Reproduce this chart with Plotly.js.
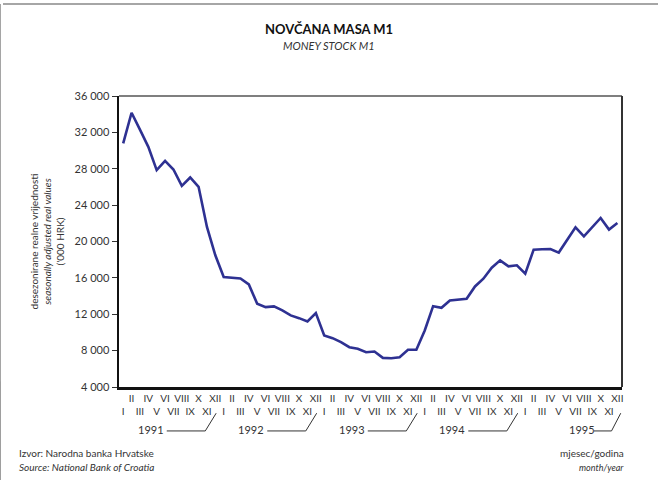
<!DOCTYPE html>
<html>
<head>
<meta charset="utf-8">
<script src="https://cdn.plot.ly/plotly-3.0.1.min.js"></script>
<style>html,body{margin:0;padding:0;background:#fff;}#chart{width:658px;height:480px;}</style>
</head>
<body>
<div id="chart"></div>
<script>
// month index 0 = I 1991 ... 59 = XII 1995
var monthIndex = [];
for (var i = 0; i < 60; i++) monthIndex.push(i);

var romanMonths = ['I','II','III','IV','V','VI','VII','VIII','IX','X','XI','XII'];
var years = ['1991','1992','1993','1994','1995'];

// seasonally adjusted real values ('000 HRK)
var m1Values = [
  30790, 34160, 32300, 30410, 27850, 28870, 27920, 26120, 27040, 26010, 21600, 18480,
  16090, 16050, 15940, 15280, 13150, 12780, 12860, 12420, 11870, 11570, 11200, 12120,
   9660,  9370,  8930,  8380,  8200,  7820,  7900,  7200,  7160,  7270,  8090,  8090,
  10210, 12890, 12710, 13520, 13630, 13710, 15060, 15910, 17120, 17930, 17270, 17380,
  16460, 19100, 19140, 19170, 18780, 20240, 21560, 20570, 21600, 22590, 21310, 22040
];

var yTicks = [4000, 8000, 12000, 16000, 20000, 24000, 28000, 32000, 36000];

var tickText = monthIndex.map(function (i) {
  var r = romanMonths[i % 12];
  return (i % 2 === 1) ? r : ('<br>' + r);
});

var FONT = 'Lato, "Open Sans", sans-serif';
var TXT = '#333';

var trace = {
  x: monthIndex,
  y: m1Values,
  type: 'scatter',
  mode: 'lines',
  line: {color: '#2e3192', width: 2.6},
  hoverinfo: 'skip'
};

// year labels and bracket lines (decoration under the month labels)
var annotations = [];
var shapes = [];
var yearCenters = [3.3, 15.3, 27.3, 39.3, 54.8];
var lineStart = [5.2, 17.2, 29.2, 41.2, 56.2];
var lineEnd = [9.8, 21.8, 33.8, 45.8, 58.3];
var slashTop = [11.1, 23.1, 35.1, 47.1, 59.4];
var yLine = -0.151, ySlash = -0.09, yYear = -0.147;
years.forEach(function (yr, k) {
  annotations.push({
    xref: 'x', yref: 'paper', x: yearCenters[k], y: yYear,
    text: yr, showarrow: false, xanchor: 'center', yanchor: 'middle',
    font: {family: FONT, size: 11, color: TXT}
  });
  shapes.push({type: 'line', xref: 'x', yref: 'paper',
    x0: lineStart[k], x1: lineEnd[k], y0: yLine, y1: yLine,
    line: {color: '#333', width: 1}});
  shapes.push({type: 'line', xref: 'x', yref: 'paper',
    x0: lineEnd[k], x1: slashTop[k], y0: yLine, y1: ySlash,
    line: {color: '#333', width: 1}});
});

// top and right frame of plot
shapes.push({type: 'line', xref: 'paper', yref: 'paper', x0: 0, x1: 1, y0: 1, y1: 1,
  line: {color: '#555', width: 1.5}});
shapes.push({type: 'line', xref: 'paper', yref: 'paper', x0: 1, x1: 1, y0: 0, y1: 1,
  line: {color: '#333', width: 2}});

// page border (left and top)
shapes.push({type: 'line', xref: 'paper', yref: 'paper',
  x0: -119/503, x1: -119/503 + 0.0001, y0: 1 + 92/291, y1: -93/291,
  line: {color: '#888', width: 1.5}});
shapes.push({type: 'line', xref: 'paper', yref: 'paper',
  x0: -116/503, x1: 1 + 36/503, y0: 1 + 92/291, y1: 1 + 92/291,
  line: {color: '#888', width: 1.5}});

// title & notes
annotations.push({xref: 'paper', yref: 'paper', x: (329 - 119) / 503, y: (387 - 29) / 291,
  text: '<b>NOVČANA MASA M1</b>', showarrow: false, xanchor: 'center', yanchor: 'middle',
  font: {family: FONT, size: 13, color: '#111'}});
annotations.push({xref: 'paper', yref: 'paper', x: (329 - 119) / 503, y: (387 - 46) / 291,
  text: '<i>MONEY STOCK M1</i>', showarrow: false, xanchor: 'center', yanchor: 'middle',
  font: {family: FONT, size: 11, color: TXT}});
annotations.push({xref: 'paper', yref: 'paper', x: (17 - 119) / 503, y: (387 - 453) / 291,
  text: 'Izvor: Narodna banka Hrvatske', showarrow: false, xanchor: 'left', yanchor: 'middle',
  font: {family: FONT, size: 10, color: TXT}});
annotations.push({xref: 'paper', yref: 'paper', x: (17 - 119) / 503, y: (387 - 467) / 291,
  text: '<i>Source: National Bank of Croatia</i>', showarrow: false, xanchor: 'left', yanchor: 'middle',
  font: {family: FONT, size: 10, color: TXT}});
annotations.push({xref: 'paper', yref: 'paper', x: (626 - 119) / 503, y: (387 - 453) / 291,
  text: 'mjesec/godina', showarrow: false, xanchor: 'right', yanchor: 'middle',
  font: {family: FONT, size: 10, color: TXT}});
annotations.push({xref: 'paper', yref: 'paper', x: (626 - 119) / 503, y: (387 - 467) / 291,
  text: '<i>month/year</i>', showarrow: false, xanchor: 'right', yanchor: 'middle',
  font: {family: FONT, size: 9, color: TXT}});

var layout = {
  width: 658, height: 480,
  margin: {l: 119, r: 36, t: 96, b: 93},
  paper_bgcolor: '#fff', plot_bgcolor: '#fff',
  showlegend: false,
  separators: '. ',
  font: {family: FONT, color: TXT},
  xaxis: {
    range: [-0.5, 59.55], showgrid: false, zeroline: false,
    tickvals: monthIndex, ticktext: tickText, tickangle: 0,
    ticks: '', showline: true, linecolor: '#111', linewidth: 2.5,
    tickfont: {family: FONT, size: 10, color: TXT}
  },
  yaxis: {
    range: [4000, 36000], showgrid: false, zeroline: false,
    tickvals: yTicks, tickformat: ',d',
    ticks: 'outside', ticklen: 5, tickwidth: 1, tickcolor: '#333',
    showline: true, linecolor: '#111', linewidth: 2.5,
    tickfont: {family: FONT, size: 11, color: TXT},
    title: {
      text: 'desezonirane realne vrijednosti<br><i>seasonally adjusted real values</i><br>(\'000 HRK)',
      font: {family: FONT, size: 10, color: TXT}, standoff: 8
    }
  },
  shapes: shapes,
  annotations: annotations
};

Plotly.newPlot('chart', [trace], layout, {displayModeBar: false, staticPlot: true});
</script>
</body>
</html>
